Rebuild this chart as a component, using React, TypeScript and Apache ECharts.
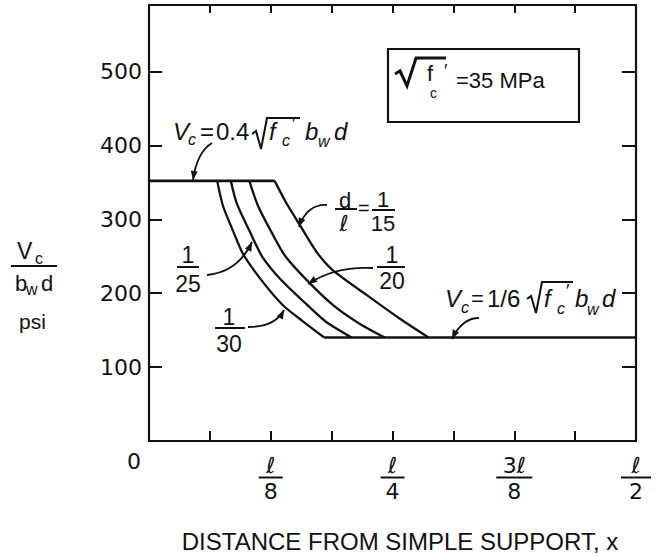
import React, { useEffect, useRef } from "react";
import * as echarts from "echarts";

// ---- data (x in units of span length ℓ, y in psi) ----
const upperPlateau = [[0, 352], [0.129, 352]];
const lowerPlateau = [[0.18, 140], [0.5, 140]];
const curve30 = [[0.070, 352], [0.076, 318], [0.087, 282], [0.097, 252], [0.117, 215], [0.138, 183], [0.158, 162], [0.180, 140]];
const curve25 = [[0.084, 352], [0.090, 322], [0.104, 282], [0.116, 250], [0.135, 219], [0.165, 181], [0.182, 161], [0.208, 140]];
const curve20 = [[0.103, 352], [0.112, 318], [0.126, 282], [0.140, 250], [0.164, 215], [0.189, 184], [0.217, 158], [0.242, 140]];
const curve15 = [[0.129, 352], [0.141, 322], [0.155, 292], [0.172, 256], [0.188, 232], [0.223, 198], [0.258, 165], [0.287, 140]];

const xTickNumerators = ["0", "ℓ", "ℓ", "3ℓ", "ℓ"];
const xTickDenominators = ["", "8", "4", "8", "2"];
const yTickLabels = ["100", "200", "300", "400", "500"];

const INK = "#111";
const SANS = "Liberation Sans";

type G = any;
const txt = (text: string, x: number, y: number, size: number, italic = false, align = "left", font = SANS): G => ({
  type: "text", x, y, silent: true,
  style: { text, fontSize: size, fontFamily: font, fontStyle: italic ? "italic" : "normal", fill: INK, align, verticalAlign: "middle" },
});
const ln = (x1: number, y1: number, x2: number, y2: number, w = 2): G => ({
  type: "line", silent: true, shape: { x1, y1, x2, y2 }, style: { stroke: INK, lineWidth: w },
});
const radical = (pts: number[][], w = 2): G => ({
  type: "polyline", silent: true, shape: { points: pts }, style: { stroke: INK, lineWidth: w, fill: "none", lineJoin: "miter" },
});
const arrow = (sx: number, sy: number, cx: number, cy: number, ex: number, ey: number): G[] => {
  const ang = Math.atan2(ey - cy, ex - cx);
  const L = 9, W = 3.5;
  const bx = ex - L * Math.cos(ang), by = ey - L * Math.sin(ang);
  const px = -Math.sin(ang), py = Math.cos(ang);
  return [
    { type: "bezierCurve", silent: true, shape: { x1: sx, y1: sy, x2: ex, y2: ey, cpx1: cx, cpy1: cy }, style: { stroke: INK, lineWidth: 1.8, fill: "none" } },
    { type: "polygon", silent: true, shape: { points: [[ex, ey], [bx + px * W, by + py * W], [bx - px * W, by - py * W]] }, style: { fill: INK } },
  ];
};
const frac = (num: string, den: string, cx: number, yNum: number, yBar: number, yDen: number, x1: number, x2: number, size = 23): G[] => [
  txt(num, cx, yNum, size, false, "center"),
  ln(x1, yBar, x2, yBar, 2),
  txt(den, cx, yDen, size, false, "center"),
];

export default function App() {
  const ref = useRef<HTMLDivElement>(null);
  useEffect(() => {
    document.body.style.margin = "0";
    const chart = echarts.init(ref.current!, undefined, { renderer: "svg" });
    const line = (name: string, data: number[][], smooth: number | boolean = false, width = 2.3) => ({
      name, type: "line", data, smooth, showSymbol: false, symbol: "none",
      lineStyle: { color: INK, width }, itemStyle: { color: INK }, silent: true,
    });
    const axisLine = { show: true, onZero: false, lineStyle: { color: INK, width: 2.2 } };
    const xLabelFormatter = (v: number) => {
      const k = v * 8;
      const i = Math.round(k);
      if (Math.abs(k - i) > 1e-6) return "";
      if (i === 0) return "{z|0}";
      const num = xTickNumerators[i] === "3ℓ" ? "{n3|3}{n|ℓ}" : `{n|${xTickNumerators[i]}}`;
      const bar = i === 3 ? "bw" : i === 4 ? "b2" : "b";
      return `${num}\n{${bar}| }\n{d|${xTickDenominators[i]}}`;
    };
    const barStyle = (w: number) => ({ width: w, height: 2, lineHeight: 5, fontSize: 2, backgroundColor: INK });

    const graphic: G[] = [
      // y-axis name  Vc / bwd  psi
      txt("V", 17, 251, 23), txt("c", 35, 258, 16),
      ln(11, 266, 57, 266, 2),
      txt("b", 15, 283, 22), txt("w", 26, 289, 16), txt("d", 41, 283, 22),
      txt("psi", 19, 321, 21),
      // f'c box
      { type: "rect", silent: true, shape: { x: 388, y: 49, width: 191, height: 73 }, style: { stroke: INK, lineWidth: 2.2, fill: "none" } },
      radical([[395, 74], [400, 71], [407, 86], [416, 58], [446, 58]], 3),
      txt("f", 427, 73, 22), txt("c", 430, 93, 14), txt("′", 444, 71, 18),
      txt("=35 MPa", 456, 80, 22),
      // upper formula Vc = 0.4 √fc' bw d
      txt("V", 173, 131, 24, true), txt("c", 188, 139, 16, true), txt("=", 200, 131, 24), txt("0.4", 216, 131, 24),
      radical([[252, 134], [256, 131], [261, 149], [267, 118], [300, 118]], 2),
      txt("f", 269, 131, 24, true), txt("c", 282, 140, 16, true), txt("′", 292, 124, 18),
      txt("b", 305, 131, 24, true), txt("w", 318, 141, 16, true), txt("d", 334, 131, 24, true),
      ...arrow(212, 143, 197, 152, 193, 180),
      // lower formula Vc = 1/6 √fc' bw d
      txt("V", 445, 298, 24, true), txt("c", 461, 307, 16, true), txt("=", 471, 298, 22), txt("1/6", 487, 298, 24),
      radical([[527, 299], [531, 296], [536, 313], [542, 282], [573, 282]], 2),
      txt("f", 544, 298, 24, true), txt("c", 557, 308, 16, true), txt("′", 566, 291, 18),
      txt("b", 575, 298, 24, true), txt("w", 587, 309, 16, true), txt("d", 602, 298, 24, true),
      ...arrow(479, 318, 462, 318, 452, 339),
      // d/ℓ = 1/15
      txt("d", 345, 200, 22, false, "center"), ln(335, 209, 357, 209, 2), txt("ℓ", 344, 223, 22, true, "center", "DejaVu Sans"),
      txt("=", 358, 208, 20),
      ...frac("1", "15", 383, 199, 210, 223, 372, 395, 22),
      ...arrow(327, 205, 307, 204, 299, 227),
      // 1/25
      ...frac("1", "25", 188, 255, 267, 284, 177, 199),
      ...arrow(207, 275, 238, 272, 252, 242),
      // 1/20
      ...frac("1", "20", 392, 255, 267, 281, 377, 405),
      ...arrow(373, 268, 335, 266, 308, 284),
      // 1/30
      ...frac("1", "30", 229, 317, 328, 344, 215, 245),
      ...arrow(248, 327, 275, 327, 284, 310),
    ];

    const option = {
      animation: false,
      backgroundColor: "#fff",
      grid: { left: 149, right: 26, top: 5, bottom: 116, containLabel: false },
      xAxis: [
        {
          type: "value", min: 0, max: 0.5, interval: 0.0625, position: "bottom",
          axisLine, splitLine: { show: false },
          axisTick: { show: true, inside: true, length: 10, lineStyle: { color: INK, width: 2 } },
          axisLabel: {
            margin: 14, color: INK, formatter: xLabelFormatter,
            rich: {
              n: { fontFamily: "DejaVu Sans", fontStyle: "italic", fontSize: 22, lineHeight: 20, color: INK },
              n3: { fontFamily: "DejaVu Sans", fontSize: 22, lineHeight: 20, color: INK },
              b: barStyle(24), bw: barStyle(36), b2: barStyle(30),
              d: { fontFamily: "DejaVu Sans", fontSize: 22, lineHeight: 22, color: INK },
              z: { fontFamily: "DejaVu Sans", fontSize: 22, lineHeight: 12, padding: [0, 30, 0, 0], color: INK },
            },
          },
          name: "DISTANCE FROM SIMPLE SUPPORT, x", nameLocation: "middle", nameGap: 88,
          nameTextStyle: { fontFamily: SANS, fontSize: 24, color: INK, padding: [0, 0, 0, 15] },
        },
        {
          type: "value", min: 0, max: 0.5, interval: 0.0625, position: "top",
          axisLine, splitLine: { show: false }, axisLabel: { show: false },
          axisTick: { show: true, inside: true, length: 8, lineStyle: { color: INK, width: 2 } },
        },
      ],
      yAxis: [
        {
          type: "value", min: 0, max: 590, interval: 100, position: "left",
          axisLine, splitLine: { show: false },
          axisTick: { show: true, inside: true, length: 13, lineStyle: { color: INK, width: 2 } },
          axisLabel: {
            margin: 7, color: INK, fontFamily: "DejaVu Sans", fontSize: 22,
            formatter: (v: number) => { const i = Math.round(v / 100); return Math.abs(v - i * 100) < 1e-6 && i >= 1 && i <= 5 ? yTickLabels[i - 1] : ""; },
          },
        },
        {
          type: "value", min: 0, max: 590, interval: 100, position: "right",
          axisLine, splitLine: { show: false }, axisLabel: { show: false },
          axisTick: { show: true, inside: true, length: 14, lineStyle: { color: INK, width: 2 } },
        },
      ],
      series: [
        line("Vc = 0.4√fc' bw d", upperPlateau, false, 2.6),
        line("Vc = 1/6√fc' bw d", lowerPlateau, false, 2.6),
        line("d/ℓ = 1/30", curve30, 0.25),
        line("d/ℓ = 1/25", curve25, 0.25),
        line("d/ℓ = 1/20", curve20, 0.25),
        line("d/ℓ = 1/15", curve15, 0.25),
      ],
      graphic,
    };
    chart.setOption(option as any);
    return () => chart.dispose();
  }, []);
  return <div ref={ref} style={{ width: 662, height: 558 }} />;
}
